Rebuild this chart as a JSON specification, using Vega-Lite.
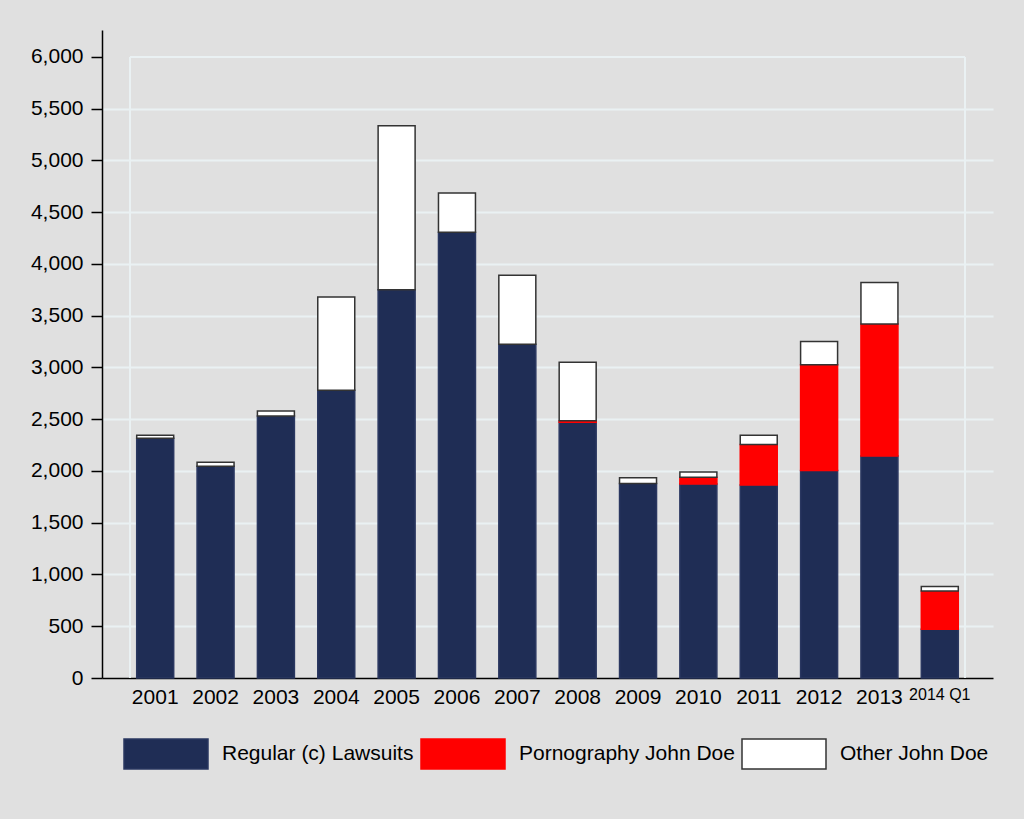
{
  "$schema": "https://vega.github.io/schema/vega-lite/v6.json",
  "width": 891,
  "height": 648,
  "autosize": {"type": "none"},
  "padding": {"left": 102, "top": 30, "right": 31, "bottom": 141},
  "background": "#e0e0e0",
  "config": {
    "view": {"stroke": null},
    "font": "Liberation Sans",
    "axis": {"labelColor": "#000000", "domainColor": "#000000", "domainWidth": 1.5, "tickColor": "#000000", "tickWidth": 1.5}
  },
  "layer": [
    {
      "data": {"values": [{}]},
      "mark": {"type": "rule", "color": "#eaf1f3", "strokeWidth": 2},
      "encoding": {
        "x": {"datum": 0.0314, "type": "quantitative", "scale": {"domain": [0, 1], "nice": false, "zero": false}, "axis": null},
        "y": {"datum": 0, "type": "quantitative", "scale": {"domain": [0, 6260], "nice": false}, "axis": null},
        "y2": {"datum": 6000}
      }
    },
    {
      "data": {"values": [{}]},
      "mark": {"type": "rule", "color": "#eaf1f3", "strokeWidth": 2},
      "encoding": {
        "x": {"datum": 0.9686, "type": "quantitative", "scale": {"domain": [0, 1], "nice": false, "zero": false}, "axis": null},
        "y": {"datum": 0, "type": "quantitative", "scale": {"domain": [0, 6260], "nice": false}, "axis": null},
        "y2": {"datum": 6000}
      }
    },
    {
      "data": {"values": [{}]},
      "mark": {"type": "rule", "color": "#eaf1f3", "strokeWidth": 2},
      "encoding": {
        "x": {"datum": 0.0314, "type": "quantitative", "scale": {"domain": [0, 1], "nice": false, "zero": false}, "axis": null},
        "x2": {"datum": 0.9686},
        "y": {"datum": 6000, "type": "quantitative", "scale": {"domain": [0, 6260], "nice": false}, "axis": null}
      }
    },
    {
      "data": {
        "values": [
          {"year": "2001", "series": "Regular (c) Lawsuits", "ord": 1, "value": 2315},
          {"year": "2001", "series": "Other John Doe", "ord": 3, "value": 30},
          {"year": "2002", "series": "Regular (c) Lawsuits", "ord": 1, "value": 2045},
          {"year": "2002", "series": "Other John Doe", "ord": 3, "value": 40},
          {"year": "2003", "series": "Regular (c) Lawsuits", "ord": 1, "value": 2530},
          {"year": "2003", "series": "Other John Doe", "ord": 3, "value": 50},
          {"year": "2004", "series": "Regular (c) Lawsuits", "ord": 1, "value": 2780},
          {"year": "2004", "series": "Other John Doe", "ord": 3, "value": 900},
          {"year": "2005", "series": "Regular (c) Lawsuits", "ord": 1, "value": 3750},
          {"year": "2005", "series": "Other John Doe", "ord": 3, "value": 1585},
          {"year": "2006", "series": "Regular (c) Lawsuits", "ord": 1, "value": 4305},
          {"year": "2006", "series": "Other John Doe", "ord": 3, "value": 380},
          {"year": "2007", "series": "Regular (c) Lawsuits", "ord": 1, "value": 3225},
          {"year": "2007", "series": "Other John Doe", "ord": 3, "value": 665},
          {"year": "2008", "series": "Regular (c) Lawsuits", "ord": 1, "value": 2470},
          {"year": "2008", "series": "Pornography John Doe", "ord": 2, "value": 15},
          {"year": "2008", "series": "Other John Doe", "ord": 3, "value": 565},
          {"year": "2009", "series": "Regular (c) Lawsuits", "ord": 1, "value": 1880},
          {"year": "2009", "series": "Other John Doe", "ord": 3, "value": 55},
          {"year": "2010", "series": "Regular (c) Lawsuits", "ord": 1, "value": 1875},
          {"year": "2010", "series": "Pornography John Doe", "ord": 2, "value": 65},
          {"year": "2010", "series": "Other John Doe", "ord": 3, "value": 50},
          {"year": "2011", "series": "Regular (c) Lawsuits", "ord": 1, "value": 1865},
          {"year": "2011", "series": "Pornography John Doe", "ord": 2, "value": 390},
          {"year": "2011", "series": "Other John Doe", "ord": 3, "value": 90},
          {"year": "2012", "series": "Regular (c) Lawsuits", "ord": 1, "value": 2005},
          {"year": "2012", "series": "Pornography John Doe", "ord": 2, "value": 1020},
          {"year": "2012", "series": "Other John Doe", "ord": 3, "value": 225},
          {"year": "2013", "series": "Regular (c) Lawsuits", "ord": 1, "value": 2145},
          {"year": "2013", "series": "Pornography John Doe", "ord": 2, "value": 1275},
          {"year": "2013", "series": "Other John Doe", "ord": 3, "value": 400},
          {"year": "2014 Q1", "series": "Regular (c) Lawsuits", "ord": 1, "value": 470},
          {"year": "2014 Q1", "series": "Pornography John Doe", "ord": 2, "value": 370},
          {"year": "2014 Q1", "series": "Other John Doe", "ord": 3, "value": 45}
        ]
      },
      "mark": {"type": "bar", "strokeWidth": 1.5},
      "encoding": {
        "x": {
          "field": "year",
          "type": "nominal",
          "sort": null,
          "scale": {"paddingInner": 0.387, "paddingOuter": 0.575},
          "axis": {
            "title": null,
            "labelAngle": 0,
            "ticks": false,
            "labelPadding": 8,
            "labelFontSize": {"condition": {"test": "datum.value == '2014 Q1'", "value": 16}, "value": 21}
          }
        },
        "y": {
          "field": "value",
          "type": "quantitative",
          "stack": "zero",
          "scale": {"domain": [0, 6260], "nice": false},
          "axis": {
            "title": null,
            "values": [0, 500, 1000, 1500, 2000, 2500, 3000, 3500, 4000, 4500, 5000, 5500, 6000],
            "format": ",d",
            "labelFontSize": 21,
            "tickSize": 11,
            "labelPadding": 8,
            "grid": true,
            "gridWidth": 2,
            "gridColor": {"condition": {"test": "datum.value === 0 || datum.value === 6000", "value": "transparent"}, "value": "#eaf1f3"}
          }
        },
        "fill": {
          "field": "series",
          "type": "nominal",
          "scale": {"domain": ["Regular (c) Lawsuits", "Pornography John Doe", "Other John Doe"], "range": ["#1f2d55", "#ff0000", "#ffffff"]},
          "legend": {
            "orient": "none",
            "legendX": 21,
            "legendY": 681,
            "direction": "horizontal",
            "title": null,
            "symbolType": "M-1,-0.357H1V0.357H-1Z",
            "symbolSize": 7056,
            "symbolStrokeWidth": 1.5,
            "labelFontSize": 21,
            "labelOffset": 13,
            "columnPadding": 4,
            "labelColor": "#000000",
            "labelLimit": 400,
            "padding": 0
          }
        },
        "stroke": {
          "field": "series",
          "type": "nominal",
          "scale": {"domain": ["Regular (c) Lawsuits", "Pornography John Doe", "Other John Doe"], "range": ["#2a3760", "#ff0000", "#333333"]},
          "legend": {
            "orient": "none",
            "legendX": 21,
            "legendY": 681,
            "direction": "horizontal",
            "title": null,
            "symbolType": "M-1,-0.357H1V0.357H-1Z",
            "symbolSize": 7056,
            "symbolStrokeWidth": 1.5,
            "labelFontSize": 21,
            "labelOffset": 13,
            "columnPadding": 4,
            "labelColor": "#000000",
            "labelLimit": 400,
            "padding": 0
          }
        },
        "order": {"field": "ord"}
      }
    }
  ],
  "resolve": {"scale": {"x": "independent", "y": "independent"}}
}
